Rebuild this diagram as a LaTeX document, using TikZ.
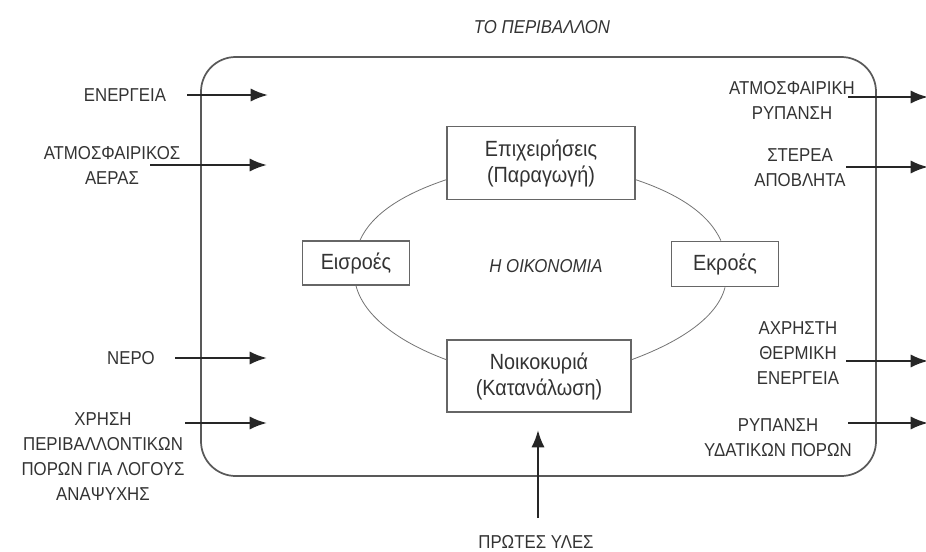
\documentclass[tikz,border=0pt]{standalone}
\usepackage{fontspec}
\setmainfont{Liberation Sans}[FakeStretch=0.9]
\usetikzlibrary{arrows.meta}

\begin{document}
\begin{tikzpicture}[x=0.75pt,y=0.75pt,yscale=-1,xscale=1,
  lbl/.style={align=center,inner sep=0.75pt,text=black!80,font=\fontsize{14}{18.75}\selectfont},
  ital/.style={lbl,font=\fontsize{14}{18.75}\selectfont\itshape},
  sector/.style={lbl,draw=black!60,line width=1.1pt,fill=white,font=\fontsize{16.5}{19.5}\selectfont},
  flow/.style={-{Latex[length=13pt,width=10pt]},line width=1.8pt,draw=black!85},
  ring/.style={draw=black!55,line width=0.6pt}]
\useasboundingbox (0,0) rectangle (926,551);

% the environment
\draw [draw=black!65,line width=1.3pt,rounded corners=26pt] (201,57) rectangle (876,476);
\draw (542,27) node [ital] (env) {ΤΟ ΠΕΡΙΒΑΛΛΟΝ};

% the economy
\draw (541,163) node [sector,minimum width=141pt,minimum height=55pt] (firms) {Επιχειρήσεις\\(Παραγωγή)};
\draw (539,376) node [sector,minimum width=138pt,minimum height=54pt] (homes) {Νοικοκυριά\\(Κατανάλωση)};
\draw (356,263) node [sector,minimum width=80pt,minimum height=33pt] (inflow) {Εισροές};
\draw (725,264) node [sector,minimum width=80pt,minimum height=34pt] (outflow) {Εκροές};
\draw (546,266) node [ital] (econ) {Η ΟΙΚΟΝΟΜΙΑ};

\draw [ring] (firms.190) .. controls +(-42,14) and +(12,-27) .. (inflow.80);
\draw [ring] (inflow.south) .. controls +(8,31) and +(-46,-17) .. (homes.170);
\draw [ring] (firms.350) .. controls +(42,14) and +(-12,-27) .. (outflow.100);
\draw [ring] (outflow.south) .. controls +(-8,31) and +(46,-17) .. (homes.10);

% inputs
\draw (125,95) node [lbl] (energy) {ΕΝΕΡΓΕΙΑ};
\draw (112,165) node [lbl] (air) {ΑΤΜΟΣΦΑΙΡΙΚΟΣ\\ΑΕΡΑΣ};
\draw (131,358) node [lbl] (water) {ΝΕΡΟ};
\draw (103,457) node [lbl] (leisure) {ΧΡΗΣΗ\\ΠΕΡΙΒΑΛΛΟΝΤΙΚΩΝ\\ΠΟΡΩΝ ΓΙΑ ΛΟΓΟΥΣ\\ΑΝΑΨΥΧΗΣ};
\draw (536,542) node [lbl] (raw) {ΠΡΩΤΕΣ ΥΛΕΣ};

\coordinate (energy-a) at (187,95);  \coordinate (energy-b) at (268,95);
\coordinate (air-a) at (150,165);    \coordinate (air-b) at (267,165);
\coordinate (water-a) at (175,358);  \coordinate (water-b) at (267,358);
\coordinate (leisure-a) at (185,423); \coordinate (leisure-b) at (267,423);
\coordinate (raw-a) at (538,518);    \coordinate (raw-b) at (538,430);

\draw [flow] (energy-a) -- (energy-b);
\draw [flow] (air-a) -- (air-b);
\draw [flow] (water-a) -- (water-b);
\draw [flow] (leisure-a) -- (leisure-b);
\draw [flow] (raw-a) -- (raw-b);

% outputs
\draw (792,100) node [lbl] (smog) {ΑΤΜΟΣΦΑΙΡΙΚΗ\\ΡΥΠΑΝΣΗ};
\draw (800,168) node [lbl] (waste) {ΣΤΕΡΕΑ\\ΑΠΟΒΛΗΤΑ};
\draw (798,353) node [lbl] (heat) {ΑΧΡΗΣΤΗ\\ΘΕΡΜΙΚΗ\\ΕΝΕΡΓΕΙΑ};
\draw (778,438) node [lbl] (spill) {ΡΥΠΑΝΣΗ\\ΥΔΑΤΙΚΩΝ ΠΟΡΩΝ};

\coordinate (smog-a) at (848,97);    \coordinate (smog-b) at (928,97);
\coordinate (waste-a) at (846,167);  \coordinate (waste-b) at (928,167);
\coordinate (heat-a) at (846,361);   \coordinate (heat-b) at (928,361);
\coordinate (spill-a) at (848,423);  \coordinate (spill-b) at (928,423);

\draw [flow] (smog-a) -- (smog-b);
\draw [flow] (waste-a) -- (waste-b);
\draw [flow] (heat-a) -- (heat-b);
\draw [flow] (spill-a) -- (spill-b);
\end{tikzpicture}
\end{document}
